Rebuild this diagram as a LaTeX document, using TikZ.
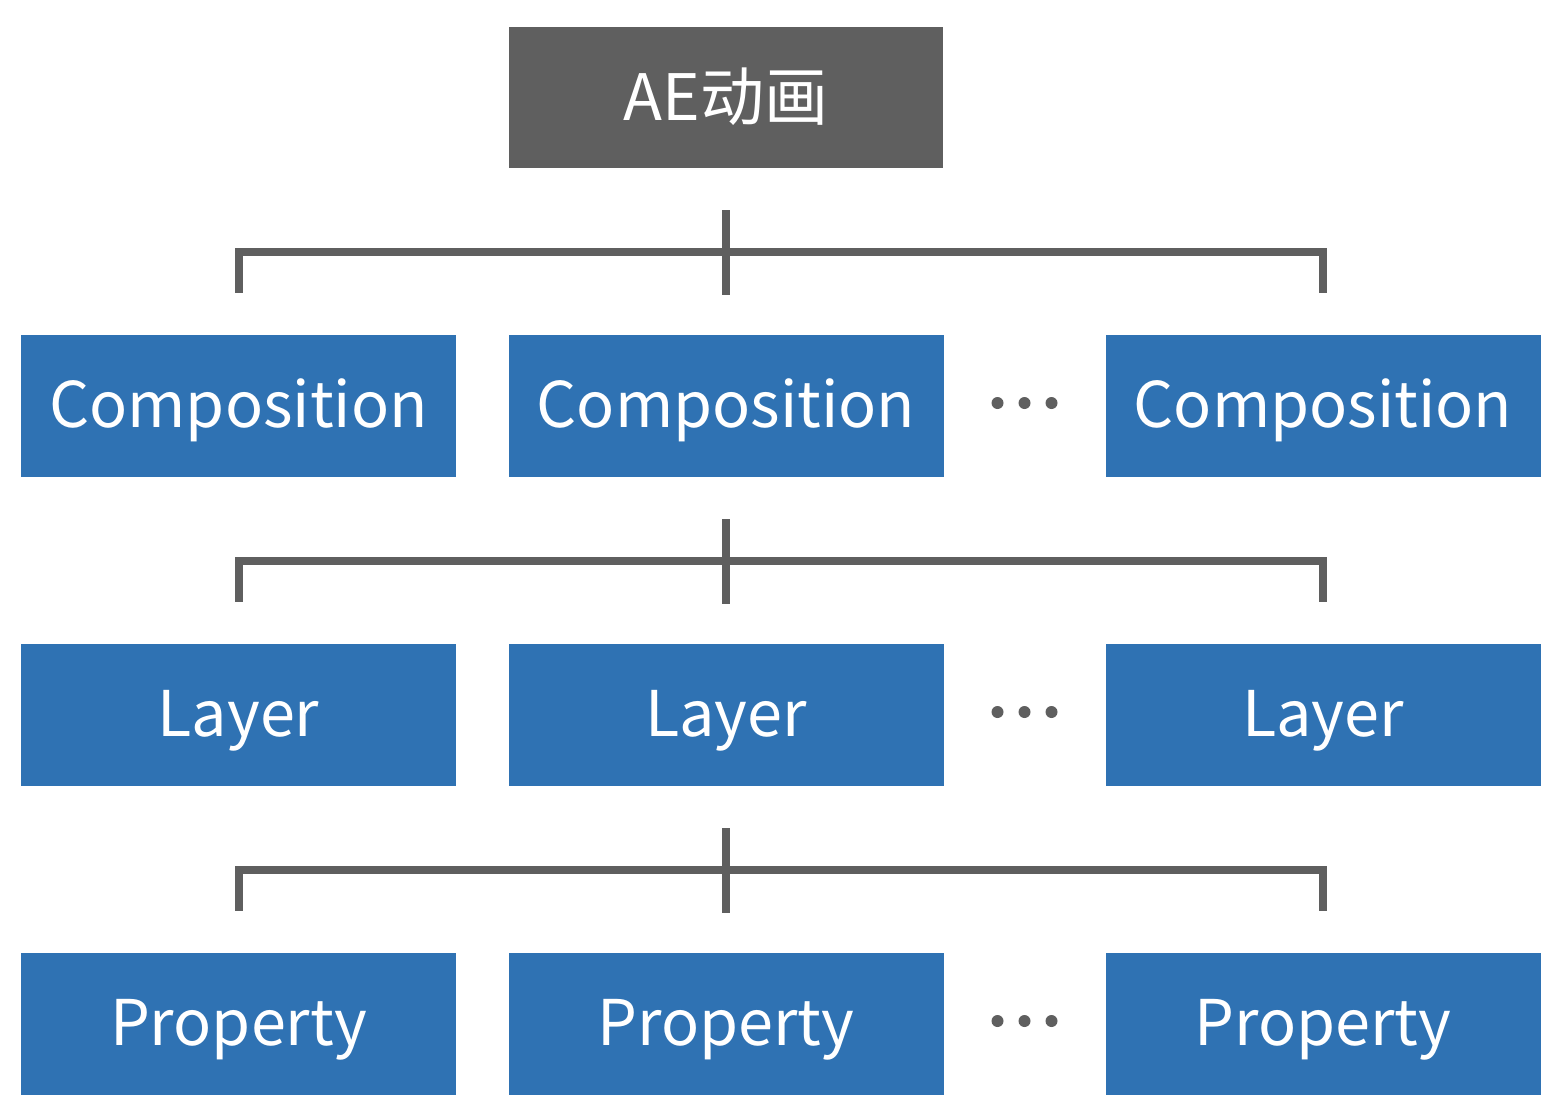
\documentclass[tikz,border=0pt]{standalone}
\usepackage{fontspec}
\setmainfont{Noto Sans CJK SC}
\usetikzlibrary{calc, positioning}
\definecolor{boxgray}{HTML}{5F5F5F}
\definecolor{boxblue}{HTML}{2F72B3}
\tikzstyle{root} = [rectangle, minimum width=217pt, minimum height=70.5pt, text centered, fill=boxgray, text=white, font=\fontsize{32}{40}\selectfont, inner sep=0pt, text height=22.5pt, text depth=0pt]
\tikzstyle{item} = [rectangle, minimum width=217.5pt, minimum height=71pt, text centered, fill=boxblue, text=white, font=\fontsize{31.5}{40}\selectfont, inner sep=0pt, text height=21.5pt, text depth=0pt]
\tikzstyle{conn} = [draw=boxgray, line width=4pt]
\tikzstyle{dot} = [circle, fill=boxgray, inner sep=0pt, minimum size=6pt]

\begin{document}
\begin{tikzpicture}[x=0.5pt, y=-0.5pt]
  \useasboundingbox (0,0) rectangle (1568,1116);

  \node (ae) [root] at (726,97.5) {AE动画};

  \node (comp1) [item] at (238.5,406) {Composition};
  \node (comp2) [item] at (726,406) {Composition};
  \node (comp3) [item] at (1323,406) {Composition};

  \node (layer1) [item] at (238.5,715) {Layer};
  \node (layer2) [item] at (726,715) {Layer};
  \node (layer3) [item] at (1323,715) {Layer};

  \node (prop1) [item] at (238.5,1024) {Property};
  \node (prop2) [item] at (726,1024) {Property};
  \node (prop3) [item] at (1323,1024) {Property};

  % ellipsis between 2nd and 3rd box of each row
  \foreach \row in {comp,layer,prop} {
    \coordinate (\row mid) at ($(\row2.east)!0.5!(\row3.west) + (0,-3)$);
    \foreach \dx in {-27,0,27}
      \node [dot] at ($(\row mid) + (\dx,0)$) {};
  }

  % tree connectors
  \foreach \up/\down in {ae/comp, comp2/layer, layer2/prop} {
    \coordinate (\down top) at ($(\down2.north) + (0,-40)$);
    \coordinate (\down bar) at ($(\up.south)!0.5!(\down2.north)$);
    \path [conn] ($(\up.south) + (0,42)$) -- (\down top);
    \path [conn, line join=miter] ($(\down1.north) + (0,-42)$) |- (\down bar) -| ($(\down3.north) + (0,-42)$);
  }
\end{tikzpicture}
\end{document}
